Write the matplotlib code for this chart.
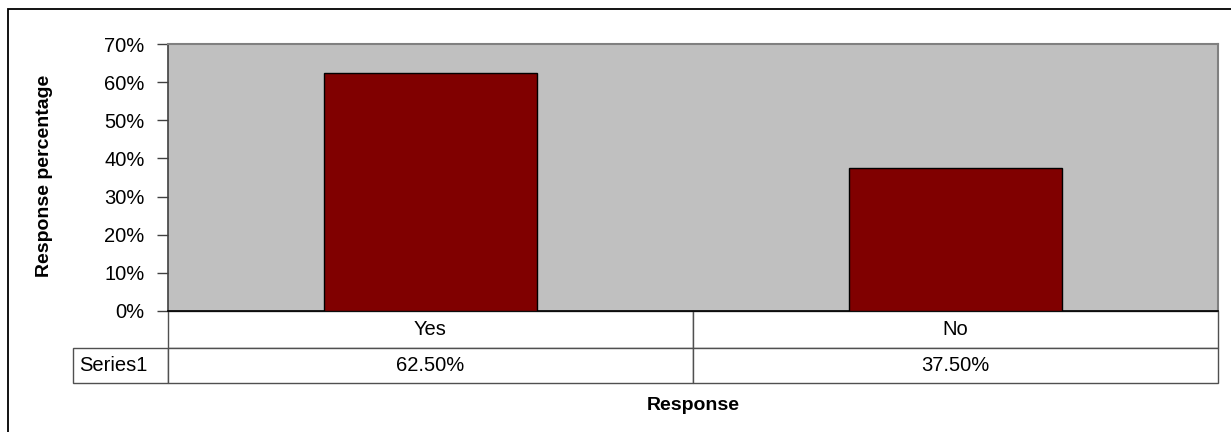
import matplotlib.pyplot as plt
from matplotlib.patches import Rectangle
from matplotlib.table import Table
from matplotlib.ticker import PercentFormatter

categories = ["Yes", "No"]
values = [0.625, 0.375]
series_name = "Series1"
value_labels = ["62.50%", "37.50%"]
yticks = [0.0, 0.1, 0.2, 0.3, 0.4, 0.5, 0.6, 0.7]

W, H = 1231, 432
plt.rcParams["font.family"] = ["Liberation Sans", "DejaVu Sans"]

fig = plt.figure(figsize=(W / 100, H / 100), dpi=100)

# plot area in pixels: left 168, right 1218, top 44, bottom 311
left, right, top, bottom = 168, 1218, 44, 311
ax = fig.add_axes([left / W, 1 - bottom / H, (right - left) / W, (bottom - top) / H])
ax.set_facecolor("#c0c0c0")

x = list(range(len(categories)))
ax.bar(x, values, width=0.404, color="#800000", edgecolor="black", linewidth=1, zorder=3)
ax.set_xlim(-0.5, len(categories) - 0.5)
ax.set_ylim(0, 0.7)
ax.set_yticks(yticks)
ax.yaxis.set_major_formatter(PercentFormatter(1.0, decimals=0))
ax.tick_params(axis="y", direction="out", length=8, width=1, pad=9,
               labelsize=14.5, color="#404040")
ax.set_xticks([])

ax.spines["left"].set_color("#404040")
ax.spines["left"].set_linewidth(1.2)
ax.spines["bottom"].set_color("black")
ax.spines["bottom"].set_linewidth(1.2)
for s in ["top", "right"]:
    ax.spines[s].set_color("#808080")
    ax.spines[s].set_linewidth(1.5)

# data table below the plot (bbox covers the data columns only)
h_px = bottom - top
lab_w = (168 - 73) / (right - left)
col_w = 1 / len(categories)
h1, h2 = 37 / h_px, 35 / h_px
tbl = Table(ax, bbox=[0, -(h1 + h2), 1, h1 + h2])
for j, cat in enumerate(categories):
    tbl.add_cell(0, j, col_w, h1, text=cat, loc="center")
    tbl.add_cell(1, j, col_w, h2, text=value_labels[j], loc="center")
c = tbl.add_cell(1, -1, lab_w, h2, text=series_name, loc="left")
c.PAD = 0.06
tbl.auto_set_font_size(False)
for cell in tbl.get_celld().values():
    cell.set_edgecolor("#505050")
    cell.set_linewidth(1)
    cell.set_text_props(fontsize=14.5)
ax.add_table(tbl)

fig.text(45 / W, 1 - 176 / H, "Response percentage", rotation=90, ha="center",
         va="center", fontsize=14, fontweight="bold")
fig.text((left + right) / 2 / W, 1 - 405 / H, "Response", ha="center", va="center",
         fontsize=14, fontweight="bold")

# outer chart border (top and left edges visible)
fig.add_artist(Rectangle((8 / W, -0.1), 1.2, 1.1 - 9 / H, transform=fig.transFigure,
                         fill=False, edgecolor="black", linewidth=1.3))

fig.savefig("out.png", dpi=100, facecolor="white")
